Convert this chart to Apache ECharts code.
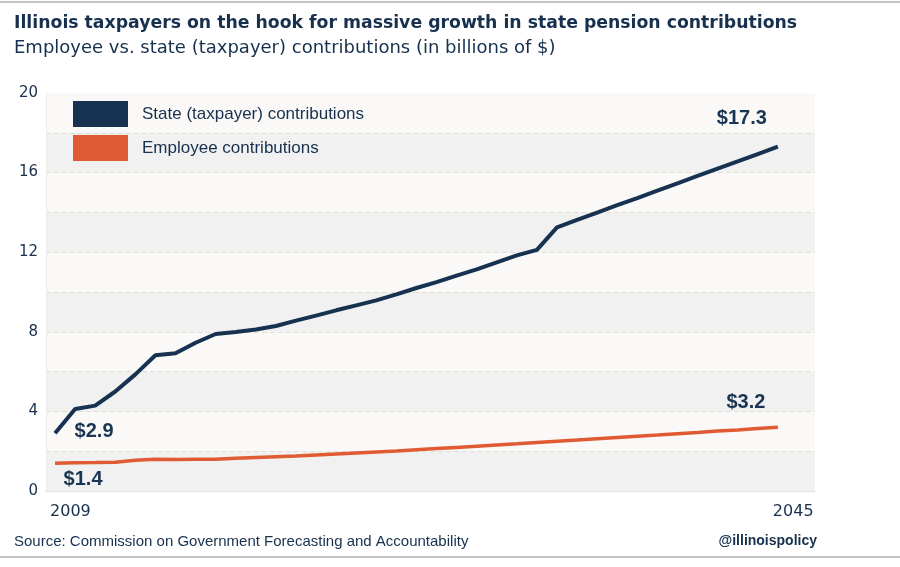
<!DOCTYPE html>
<html>
<head>
<meta charset="utf-8">
<script src="https://cdn.jsdelivr.net/npm/echarts@6/dist/echarts.min.js"></script>
<style>
html,body{margin:0;padding:0;background:#fff;}
#chart{width:900px;height:567px;}
</style>
</head>
<body>
<div id="chart"></div>
<script>
var years = [2009,2010,2011,2012,2013,2014,2015,2016,2017,2018,2019,2020,2021,2022,2023,2024,2025,2026,2027,2028,2029,2030,2031,2032,2033,2034,2035,2036,2037,2038,2039,2040,2041,2042,2043,2044,2045];
var stateContrib = [2.9,4.12,4.29,5.0,5.86,6.82,6.92,7.45,7.89,7.99,8.12,8.29,8.56,8.81,9.08,9.33,9.58,9.88,10.2,10.5,10.82,11.14,11.49,11.84,12.12,13.25,13.62,13.99,14.36,14.72,15.09,15.46,15.83,16.2,16.56,16.93,17.3];
var employeeContrib = [1.4,1.42,1.43,1.45,1.54,1.6,1.58,1.59,1.6,1.64,1.68,1.72,1.76,1.81,1.86,1.91,1.96,2.01,2.07,2.13,2.19,2.25,2.31,2.37,2.44,2.5,2.56,2.63,2.69,2.75,2.81,2.88,2.94,3.01,3.07,3.14,3.2];
var xTickLabels = [2009, 2045];
var yTicks = [0,4,8,12,16,20];
var seriesNames = ['State (taxpayer) contributions', 'Employee contributions'];
var titleText = 'Illinois taxpayers on the hook for massive growth in state pension contributions';
var subtitleText = 'Employee vs. state (taxpayer) contributions (in billions of $)';
var sourceText = 'Source: Commission on Government Forecasting and Accountability';
var handleText = '@illinoispolicy';

var NAVY = '#163250';
var ORANGE = '#e05b33';
var TEXT = '#16304d';
var labelStyle = {fontFamily:'Liberation Sans, Arial, sans-serif', fontWeight:'bold', fontSize:20, color:'#1a3553'};

function buildData(vals, firstOff, lastOff){
  return vals.map(function(v,i){
    var item = {value:[years[i], v]};
    if(i===0 || i===vals.length-1){
      item.label = Object.assign({show:true, position:'inside', offset: i===0?firstOff:lastOff,
        formatter: '$' + v.toFixed(1)}, labelStyle);
    }
    return item;
  });
}

var chart = echarts.init(document.getElementById('chart'));
chart.setOption({
  backgroundColor:'#ffffff',
  animation:false,
  title:[
    {text:titleText, left:14, top:15, padding:0, textStyle:{fontFamily:'DejaVu Sans, sans-serif', fontWeight:'bold', fontSize:17.3, color:TEXT}},
    {text:subtitleText, left:14, top:39, padding:0, textStyle:{fontFamily:'DejaVu Sans, sans-serif', fontWeight:'normal', fontSize:18, color:TEXT}}
  ],
  graphic:[
    {type:'rect', left:0, top:1, shape:{width:900, height:2}, style:{fill:'#c4c4c4'}},
    {type:'rect', left:0, top:556, shape:{width:900, height:2}, style:{fill:'#c4c4c4'}},
    {type:'text', left:14, top:534, style:{text:sourceText, font:'15px Liberation Sans, Arial, sans-serif', fill:TEXT}},
    {type:'text', right:83, top:534, style:{text:handleText, font:'bold 14px Liberation Sans, Arial, sans-serif', fill:TEXT}}
  ],
  legend:{
    orient:'vertical', left:73, top:101, padding:0, itemWidth:55, itemHeight:26, itemGap:8,
    icon:'rect',
    data:seriesNames,
    textStyle:{fontFamily:'Liberation Sans, Arial, sans-serif', fontSize:17, color:TEXT, padding:[0,0,0,9]}
  },
  grid:{left:46, right:85, top:93, bottom:76},
  xAxis:{
    type:'value', min:2008.55, max:2046.85,
    axisLine:{show:true, lineStyle:{color:'#e2e2e2', width:1}},
    axisTick:{show:false},
    splitLine:{show:false},
    axisLabel:{customValues:xTickLabels, align:'left', padding:[0,0,0,-5], margin:13, formatter:function(v){return String(v);},
      fontFamily:'DejaVu Sans, sans-serif', fontSize:16, color:TEXT}
  },
  yAxis:{
    type:'value', min:0, max:20, interval:2,
    axisLine:{show:true, lineStyle:{color:'#ececec'}},
    axisTick:{show:false},
    axisLabel:{formatter:function(v){return yTicks.indexOf(v)>=0?String(v):'';}, margin:8,
      fontFamily:'DejaVu Sans, sans-serif', fontSize:15, color:TEXT},
    splitLine:{show:true, showMaxLine:false, lineStyle:{color:'#e4ddd3', type:[5,3], width:1}},
    splitArea:{show:true, areaStyle:{color:['#f1f1f1','#faf9f8']}}
  },
  series:[
    {name:seriesNames[0], type:'line', data:buildData(stateContrib,[39,-2],[-36,-28]),
      symbol:'circle', symbolSize:0, lineStyle:{color:NAVY, width:4}, itemStyle:{color:NAVY}, z:3},
    {name:seriesNames[1], type:'line', data:buildData(employeeContrib,[28,16],[-32,-25]),
      symbol:'circle', symbolSize:0, lineStyle:{color:ORANGE, width:3.5}, itemStyle:{color:ORANGE}, z:2}
  ]
});
</script>
</body>
</html>
